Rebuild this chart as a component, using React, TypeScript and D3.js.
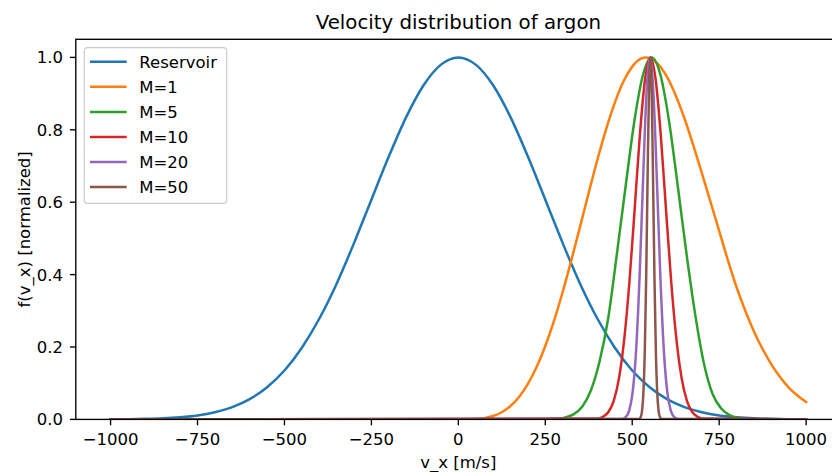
import React from "react";
import * as d3 from "d3";

const W = 832;
const H = 472;

// velocity samples [m/s] and normalized f(v_x)
const vReservoir = [
  -1000, -950, -900, -850, -800, -750, -700, -650, -600, -550, -500, -450, -400, -350,
  -300, -250, -200, -150, -100, -50, 0, 50, 100, 150, 200, 250, 300, 350, 400, 450, 500,
  550, 600, 650, 700, 750, 800, 850, 900, 950, 1000,
];
const fReservoir = [
  0.0003, 0.0007, 0.0015, 0.003, 0.006, 0.011, 0.02, 0.034, 0.056, 0.089, 0.135, 0.198,
  0.278, 0.375, 0.487, 0.607, 0.726, 0.835, 0.923, 0.98, 1.0, 0.98, 0.923, 0.835, 0.726,
  0.607, 0.487, 0.375, 0.278, 0.198, 0.135, 0.089, 0.056, 0.034, 0.02, 0.011, 0.006, 0.003,
  0.0015, 0.0007, 0.0003,
];

const vM1 = [
  -1000, 0, 25, 50, 75, 100, 125, 150, 175, 200, 225, 250, 275, 300, 325, 350, 375, 400,
  425, 450, 475, 500, 525, 540, 550, 575, 600, 625, 650, 675, 700, 725, 750, 775, 800, 825,
  850, 875, 900, 925, 950, 975, 1000,
];
const fM1 = [
  0, 0, 0.0001, 0.0009, 0.0035, 0.0093, 0.0198, 0.037, 0.0625, 0.098, 0.1445, 0.2027,
  0.2723, 0.352, 0.44, 0.5326, 0.6267, 0.718, 0.802, 0.875, 0.934, 0.9745, 0.9965, 1.0,
  0.998, 0.981, 0.946, 0.895, 0.832, 0.759, 0.681, 0.601, 0.521, 0.44, 0.365, 0.3, 0.243,
  0.194, 0.152, 0.117, 0.088, 0.066, 0.048,
];

const vM5 = [
  -1000, 256, 281, 306, 331, 356, 381, 406, 431, 456, 481, 506, 531, 556, 581, 606, 631,
  656, 681, 706, 731, 756, 781, 806, 831, 856, 1000,
];
const fM5 = [
  0, 0.0005, 0.0015, 0.005, 0.014, 0.035, 0.08, 0.16, 0.28, 0.458, 0.644, 0.823, 0.952, 1.0,
  0.952, 0.823, 0.644, 0.458, 0.29, 0.155, 0.07, 0.03, 0.011, 0.004, 0.001, 0.0002, 0,
];

const vM10 = [
  -1000, 402, 417, 432, 447, 462, 477, 492, 507, 522, 537, 552, 567, 582, 597, 612, 627,
  642, 657, 672, 687, 702, 1000,
];
const fM10 = [
  0, 0.0024, 0.0076, 0.0211, 0.0521, 0.1141, 0.2215, 0.381, 0.581, 0.786, 0.941, 1.0, 0.941,
  0.786, 0.581, 0.381, 0.2215, 0.1141, 0.0521, 0.0211, 0.0076, 0.0024, 0,
];

const vM20 = [
  -1000, 471, 481, 491, 501, 511, 521, 531, 541, 551, 561, 571, 581, 591, 601, 611, 621, 631,
  1000,
];
const fM20 = [
  0, 0.0013, 0.006, 0.0234, 0.0738, 0.1886, 0.391, 0.659, 0.901, 1.0, 0.901, 0.659, 0.391,
  0.1886, 0.0738, 0.0234, 0.006, 0.0013, 0,
];

const vM50 = [
  -1000, 520, 524, 528, 532, 536, 540, 544, 548, 552, 556, 560, 564, 568, 572, 576, 580, 584,
  1000,
];
const fM50 = [
  0, 0.0012, 0.0056, 0.0223, 0.0712, 0.184, 0.386, 0.655, 0.9, 1.0, 0.9, 0.655, 0.386, 0.184,
  0.0712, 0.0223, 0.0056, 0.0012, 0,
];

const labels = ["Reservoir", "M=1", "M=5", "M=10", "M=20", "M=50"];
const colors = ["#1f77b4", "#ff7f0e", "#2ca02c", "#d62728", "#9467bd", "#8c564b"];
const xTicks = [-1000, -750, -500, -250, 0, 250, 500, 750, 1000];
const yTicks = [0, 0.2, 0.4, 0.6, 0.8, 1.0];

const seriesV = [vReservoir, vM1, vM5, vM10, vM20, vM50];
const seriesF = [fReservoir, fM1, fM5, fM10, fM20, fM50];

const font = "DejaVu Sans, sans-serif";

export default function App() {
  // axes box (matplotlib-like, right edge falls outside the picture)
  const left = 75.8;
  const right = 840.9;
  const top = 39.3;
  const bottom = 419.4;

  const x = d3.scaleLinear().domain([-1100, 1100]).range([left, right]);
  const y = d3.scaleLinear().domain([0, 1.05]).range([bottom, top]);

  const line = d3
    .line<[number, number]>()
    .x((d) => x(d[0]))
    .y((d) => y(d[1]))
    .curve(d3.curveMonotoneX);

  const fmtX = d3.format("d");
  const fmtY = d3.format(".1f");

  const tickLen = 5.9;
  const legX = 84.3;
  const legY = 47.7;
  const rowH = 25.05;

  return (
    <div style={{ position: "absolute", left: 0, top: 0 }}>
      <svg width={W} height={H} style={{ display: "block", background: "#fff" }} fontFamily={font}>
        <defs>
          <clipPath id="plot">
            <rect x={left} y={top} width={right - left} height={bottom - top} />
          </clipPath>
        </defs>

        <g clipPath="url(#plot)">
          {seriesV.map((vs, i) => (
            <path
              key={labels[i]}
              d={line(vs.map((v, j) => [v, seriesF[i][j]] as [number, number])) || ""}
              fill="none"
              stroke={colors[i]}
              strokeWidth={2.5}
              strokeLinejoin="round"
              strokeLinecap="square"
            />
          ))}
        </g>

        {/* spines */}
        <rect
          x={left}
          y={top}
          width={right - left}
          height={bottom - top}
          fill="none"
          stroke="#000"
          strokeWidth={1.36}
        />

        {/* x ticks */}
        {xTicks.map((t) => (
          <g key={"x" + t}>
            <line x1={x(t)} x2={x(t)} y1={bottom} y2={bottom + tickLen} stroke="#000" strokeWidth={1.36} />
            <text x={x(t)} y={445} textAnchor="middle" fontSize={16.5} fill="#000">
              {fmtX(t)}
            </text>
          </g>
        ))}

        {/* y ticks */}
        {yTicks.map((t) => (
          <g key={"y" + t}>
            <line x1={left - tickLen} x2={left} y1={y(t)} y2={y(t)} stroke="#000" strokeWidth={1.36} />
            <text x={left - 2 * tickLen - 1} y={y(t) + 6} textAnchor="end" fontSize={16.5} fill="#000">
              {fmtY(t)}
            </text>
          </g>
        ))}

        {/* axis labels and title */}
        <text x={(left + right) / 2} y={468} textAnchor="middle" fontSize={16.5} fill="#000">
          v_x [m/s]
        </text>
        <text
          transform={`translate(29.5, ${(top + bottom) / 2}) rotate(-90)`}
          textAnchor="middle"
          fontSize={16.5}
          fill="#000"
        >
          f(v_x) [normalized]
        </text>
        <text x={(left + right) / 2} y={29.2} textAnchor="middle" fontSize={19.8} fill="#000">
          Velocity distribution of argon
        </text>

        {/* legend */}
        <rect
          x={legX}
          y={legY}
          width={142.4}
          height={155.6}
          rx={3.3}
          fill="#fff"
          fillOpacity={0.8}
          stroke="#cccccc"
          strokeWidth={1.2}
        />
        {labels.map((lab, i) => {
          const ly = 61.8 + i * rowH;
          return (
            <g key={"leg" + lab}>
              <line x1={90} x2={126.7} y1={ly} y2={ly} stroke={colors[i]} strokeWidth={2.5} />
              <text x={139.3} y={ly + 6} fontSize={16.5} fill="#000">
                {lab}
              </text>
            </g>
          );
        })}
      </svg>
    </div>
  );
}
